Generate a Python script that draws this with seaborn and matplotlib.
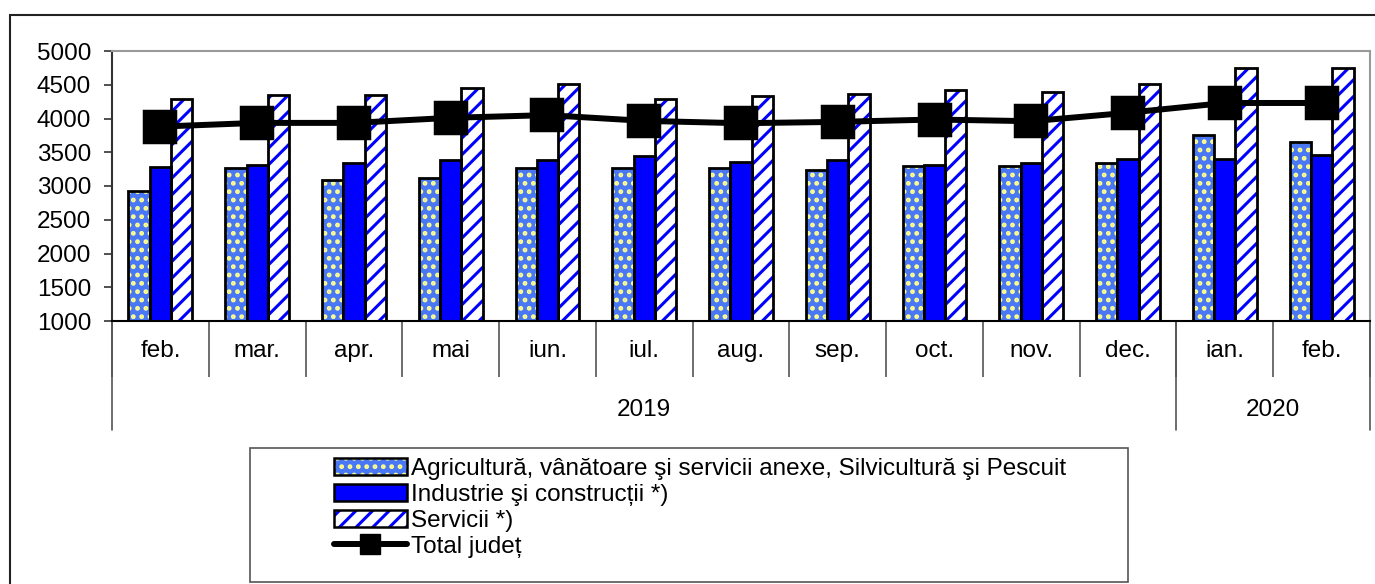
import numpy as np
import pandas as pd
import matplotlib
matplotlib.use("Agg")
import matplotlib.pyplot as plt
import matplotlib.patches as mpatches
from matplotlib.lines import Line2D
from matplotlib.legend_handler import HandlerTuple
import seaborn as sns

# date
luni = ['feb.', 'mar.', 'apr.', 'mai', 'iun.', 'iul.', 'aug.', 'sep.', 'oct.', 'nov.', 'dec.', 'ian.', 'feb.']
ani = ['2019', '2020']
ani_nr_luni = [11, 2]

agricultura = [2930, 3265, 3090, 3115, 3270, 3265, 3265, 3240, 3295, 3295, 3340, 3760, 3650]
industrie = [3285, 3310, 3345, 3385, 3385, 3440, 3355, 3385, 3310, 3345, 3400, 3400, 3460]
servicii = [4290, 4350, 4350, 4445, 4505, 4295, 4330, 4360, 4420, 4390, 4510, 4745, 4745]
total = [3880, 3935, 3935, 4010, 4050, 3965, 3930, 3950, 3985, 3960, 4085, 4230, 4230]

serii = ['Agricultură, vânătoare şi servicii anexe, Silvicultură şi Pescuit',
         'Industrie şi construcții *)',
         'Servicii *)']
nume_total = 'Total județ'

culori_fond = ['#4A78F5', '#0000FF', 'white']
culori_hatch = ['#FFFF8C', '#0000FF', '#0000FF']
hatches = ['..', '', '//']

# perioade unice (feb. apare de doua ori)
an_luna = np.repeat(ani, ani_nr_luni)
perioada = [l + ' ' + a for l, a in zip(luni, an_luna)]

df = pd.DataFrame({
    'perioada': perioada * 3,
    'serie': np.repeat(serii, len(perioada)),
    'valoare': agricultura + industrie + servicii,
})

sns.set_style('white', {'xtick.bottom': True, 'ytick.left': True,
                        'text.color': 'black', 'xtick.color': 'black', 'ytick.color': 'black'})
plt.rcParams['font.family'] = ['Liberation Sans', 'DejaVu Sans']
plt.rcParams['hatch.linewidth'] = 2.2

fig = plt.figure(figsize=(13.75, 5.84), dpi=100)
ax = fig.add_axes([112 / 1375, 1 - 321 / 584, (1370 - 112) / 1375, 270 / 584])

sns.barplot(data=df, x='perioada', y='valoare', hue='serie', order=perioada,
            hue_order=serii, palette=culori_fond, width=0.66, saturation=1,
            legend=False, ax=ax)

for i, cont in enumerate(ax.containers):
    for bar in cont:
        bar.set_facecolor(culori_fond[i])
        bar.set_hatch(hatches[i])
        bar.set_edgecolor(culori_hatch[i])
        bar.set_linewidth(0)
        contur = mpatches.Rectangle(bar.get_xy(), bar.get_width(), bar.get_height(),
                                    fill=False, edgecolor='black', linewidth=2, zorder=3)
        ax.add_patch(contur)

sns.pointplot(x=perioada, y=total, order=perioada, color='black', markers='s',
              linestyles='-', markersize=21, linewidth=4.3, errorbar=None, ax=ax)
for ln in ax.lines:
    ln.set_zorder(5)
    ln.set_clip_on(False)

n = len(perioada)
ax.set_xlim(-0.5, n - 0.5)
ax.set_ylim(1000, 5000)
ax.set_yticks(np.arange(1000, 5001, 500))
ax.set_xlabel('')
ax.set_ylabel('')
ax.grid(False)

ax.set_xticks(np.arange(n))
ax.set_xticklabels(luni)
ax.set_xticks(np.arange(n + 1) - 0.5, minor=True)
ax.tick_params(axis='x', which='major', length=0, pad=14, labelsize=17.5, labelcolor='black')
ax.tick_params(axis='x', which='minor', bottom=True, length=40, width=1.2, color='#555555', direction='out')
ax.tick_params(axis='y', length=6, width=1.2, color='#333333', direction='out', pad=9,
               labelsize=17.5, left=True, labelcolor='black')

for s in ['top', 'right']:
    ax.spines[s].set_color('#999999')
    ax.spines[s].set_linewidth(1.5)
ax.spines['left'].set_color('#333333')
ax.spines['bottom'].set_color('black')
ax.spines['left'].set_linewidth(1.5)
ax.spines['bottom'].set_linewidth(1.5)

# al doilea nivel de categorii: anii
limite = np.concatenate([[0], np.cumsum(ani_nr_luni)]) - 0.5
for b in limite:
    ax.plot([b, b], [0, -0.404], transform=ax.get_xaxis_transform(), clip_on=False,
            color='#555555', lw=1.2)
for k, an in enumerate(ani):
    ax.text((limite[k] + limite[k + 1]) / 2, -0.33, an, transform=ax.get_xaxis_transform(),
            ha='center', va='center', fontsize=17.5, color='black')

# legenda: fond hasurat + contur negru suprapuse
handles = []
for i in range(len(serii)):
    fond = mpatches.Patch(facecolor=culori_fond[i], edgecolor=culori_hatch[i], hatch=hatches[i], linewidth=0)
    contur = mpatches.Patch(fill=False, edgecolor='black', linewidth=1.8)
    handles.append((fond, contur))
handles.append(Line2D([], [], color='black', lw=4.3, marker='s', markersize=15))
leg = fig.legend(handles, serii + [nume_total], loc='upper left',
                 bbox_to_anchor=(334 / 1375, 1 - 458 / 584), frameon=False,
                 fontsize=17.5, borderpad=0, handlelength=3.0, handletextpad=0.15,
                 labelspacing=0.16, borderaxespad=0,
                 handler_map={tuple: HandlerTuple()})
for t in leg.get_texts():
    t.set_color('black')
fig.add_artist(mpatches.Rectangle((250 / 1375, 1 - 582 / 584), (1128 - 250) / 1375, 134 / 584,
                                  transform=fig.transFigure, fill=False, edgecolor='#555555', lw=1.2))

# chenarul exterior
fig.add_artist(mpatches.Rectangle((10 / 1375, -0.05), 1.2, 1.05 - 15 / 584,
                                  transform=fig.transFigure, fill=False, edgecolor='#222222', lw=1.5))

fig.savefig('out.png', dpi=100)
